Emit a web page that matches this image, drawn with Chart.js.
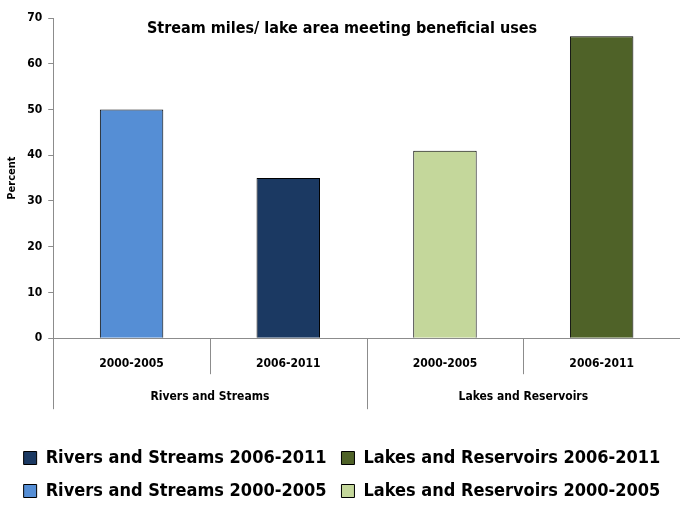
<!DOCTYPE html>
<html>
<head>
<meta charset="utf-8">
<script src="https://cdn.jsdelivr.net/npm/chart.js@4.4.1/dist/chart.umd.min.js"></script>
<style>
  html, body { margin: 0; padding: 0; background: #fff; }
  #wrap { width: 680px; height: 510px; }
</style>
</head>
<body>
<div id="wrap"><canvas id="bar-chart" width="680" height="510"></canvas></div>
<script>
var periods = ["2000-2005", "2006-2011", "2000-2005", "2006-2011"];
var groups = ["Rivers and Streams", "Lakes and Reservoirs"];
var yTicks = [0, 10, 20, 30, 40, 50, 60, 70];

// percent meeting beneficial uses, one value per bar
var riversEarly = [50, null, null, null];
var riversLate = [null, 35, null, null];
var lakesEarly = [null, null, 41, null];
var lakesLate = [null, null, null, 66];

var FONT = "'DejaVu Sans Condensed', 'Liberation Sans Narrow', sans-serif";
var AXIS = "#8c8c8c";

// title sits inside the plot, separators for the two-level axis
var extras = {
  id: "extras",
  afterDraw: function (chart) {
    var ctx = chart.ctx;
    var area = chart.chartArea;
    var x = chart.scales.x;
    var slot = x.width / periods.length;
    ctx.save();
    ctx.strokeStyle = AXIS;
    ctx.lineWidth = 1;
    for (var i = 0; i <= periods.length; i++) {
      var px = Math.round(x.left + i * slot) + 0.5;
      var len = (i % 2 === 0) ? 71 : 36;
      ctx.beginPath();
      ctx.moveTo(px, area.bottom);
      ctx.lineTo(px, area.bottom + len);
      ctx.stroke();
    }
    ctx.fillStyle = "#000";
    ctx.font = "bold 16px " + FONT;
    ctx.textAlign = "center";
    ctx.textBaseline = "middle";
    ctx.fillText("Stream miles/ lake area meeting beneficial uses", 342, area.top + 11);
    ctx.restore();
  }
};

function makeSet(label, data, color) {
  return {
    label: label,
    data: data,
    backgroundColor: color,
    borderColor: "#000",
    borderWidth: 1,
    barPercentage: 0.405,
    categoryPercentage: 1.0,
    skipNull: true
  };
}

function drawChart() {
  new Chart(document.getElementById("bar-chart"), {
    type: "bar",
    data: {
      labels: periods,
      datasets: [
        makeSet("Rivers and Streams 2006-2011", riversLate, "#1b3962"),
        makeSet("Lakes and Reservoirs 2006-2011", lakesLate, "#4f6228"),
        makeSet("Rivers and Streams 2000-2005", riversEarly, "#558ed5"),
        makeSet("Lakes and Reservoirs 2000-2005", lakesEarly, "#c4d79b")
      ]
    },
    options: {
      responsive: false,
      animation: false,
      layout: { padding: { top: 18, right: 0, left: 4, bottom: 0 } },
      plugins: {
        tooltip: { enabled: false },
        title: { display: false },
        legend: {
          position: "bottom",
          labels: {
            color: "#000",
            font: { family: FONT, size: 18, weight: "bold" },
            boxWidth: 13,
            boxHeight: 13,
            padding: 15
          }
        }
      },
      scales: {
        x: {
          grid: { display: false },
          border: { color: AXIS },
          ticks: {
            color: "#000",
            font: { family: FONT, size: 12, weight: "bold" },
            padding: 10
          }
        },
        x2: {
          type: "category",
          labels: groups,
          position: "bottom",
          offset: true,
          grid: { display: false, drawTicks: false },
          border: { display: false },
          ticks: {
            color: "#000",
            font: { family: FONT, size: 12, weight: "bold" },
            padding: 9
          },
          afterFit: function (scale) { scale.height += 21; }
        },
        y: {
          min: 0,
          max: 70,
          afterBuildTicks: function (scale) {
            scale.ticks = yTicks.map(function (v) { return { value: v }; });
          },
          grid: { drawOnChartArea: false, tickLength: 5, color: AXIS },
          border: { color: AXIS },
          ticks: {
            color: "#000",
            font: { family: FONT, size: 12, weight: "bold" },
            padding: 6
          },
          title: {
            display: true,
            text: "Percent",
            color: "#000",
            font: { family: FONT, size: 11, weight: "bold" },
            padding: 2
          }
        }
      }
    },
    plugins: [extras]
  });
}

document.addEventListener("DOMContentLoaded", function () {
  drawChart();
});
</script>
</body>
</html>
